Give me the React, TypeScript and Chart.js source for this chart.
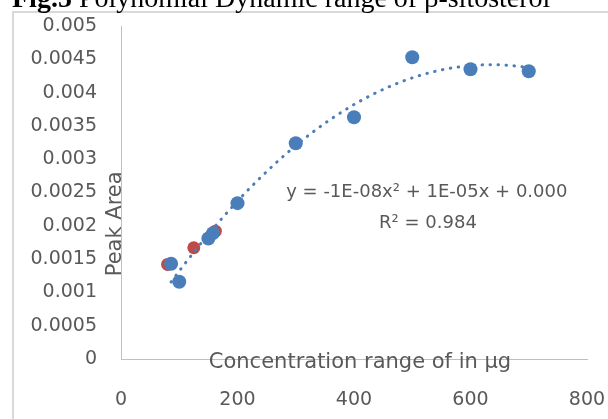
import React, { useEffect, useRef } from 'react';
import { Chart, registerables } from 'chart.js';

Chart.register(...registerables);

const TITLE_BOLD = 'Fig.5';
const TITLE_REST = ' Polynomial Dynamic range of β-sitosterol';
const X_TITLE = 'Concentration range of in µg';
const Y_TITLE = 'Peak Area';
const EQUATION = 'y = -1E-08x² + 1E-05x + 0.000';
const R2_LABEL = 'R² = 0.984';

// Main (blue) series – concentration (µg) vs peak area
const BLUE_X = [86, 100, 150, 158, 200, 300, 400, 500, 600, 700];
const BLUE_Y = [0.00143, 0.00116, 0.00181, 0.00189, 0.00234, 0.00324, 0.00363, 0.00453, 0.00435, 0.00432];

// Secondary (red) series
const RED_X = [80, 125, 162];
const RED_Y = [0.00142, 0.00167, 0.00192];

const X_TICKS = [0, 200, 400, 600, 800];
const Y_TICKS = [0, 0.0005, 0.001, 0.0015, 0.002, 0.0025, 0.003, 0.0035, 0.004, 0.0045, 0.005];

const BLUE = '#4A7EBB';
const RED = '#BE4B48';
const GRAY_TEXT = '#595959';
const AXIS_LINE = '#BFBFBF';
const FONT = '"DejaVu Sans", sans-serif';

// least-squares quadratic fit (Excel polynomial trendline, order 2)
function quadFit(xs: number[], ys: number[]) {
  let s0 = 0, s1 = 0, s2 = 0, s3 = 0, s4 = 0, t0 = 0, t1 = 0, t2 = 0;
  for (let i = 0; i < xs.length; i++) {
    const x = xs[i], y = ys[i];
    s0 += 1; s1 += x; s2 += x * x; s3 += x * x * x; s4 += x * x * x * x;
    t0 += y; t1 += x * y; t2 += x * x * y;
  }
  const m = [
    [s4, s3, s2, t2],
    [s3, s2, s1, t1],
    [s2, s1, s0, t0],
  ];
  for (let c = 0; c < 3; c++) {
    for (let r = c + 1; r < 3; r++) {
      const f = m[r][c] / m[c][c];
      for (let k = c; k < 4; k++) m[r][k] -= f * m[c][k];
    }
  }
  const sol = [0, 0, 0];
  for (let r = 2; r >= 0; r--) {
    let v = m[r][3];
    for (let k = r + 1; k < 3; k++) v -= m[r][k] * sol[k];
    sol[r] = v / m[r][r];
  }
  return sol; // a, b, c
}

const decorPlugin = {
  id: 'decor',
  beforeDraw(chart: any) {
    const ctx = chart.ctx;
    ctx.save();
    ctx.fillStyle = '#ffffff';
    ctx.fillRect(0, 0, chart.width, chart.height);
    ctx.strokeStyle = '#D9D9D9';
    ctx.lineWidth = 2;
    ctx.strokeRect(13, 12, 900, 700);
    ctx.fillStyle = '#000000';
    ctx.textBaseline = 'alphabetic';
    ctx.textAlign = 'left';
    ctx.font = 'bold 28px "Liberation Serif", serif';
    ctx.fillText(TITLE_BOLD, 12, 7);
    const w = ctx.measureText(TITLE_BOLD).width;
    ctx.font = '28px "Liberation Serif", serif';
    ctx.fillText(TITLE_REST, 12 + w, 7);
    ctx.restore();
  },
  afterDraw(chart: any) {
    const ctx = chart.ctx;
    const xs = chart.scales.x;
    const ys = chart.scales.y;
    const area = chart.chartArea;
    ctx.save();
    ctx.fillStyle = GRAY_TEXT;
    // x title, straddling the axis line
    ctx.font = `21px ${FONT}`;
    ctx.textAlign = 'center';
    ctx.textBaseline = 'alphabetic';
    ctx.fillText(X_TITLE, (area.left + area.right) / 2 + 6, area.bottom + 9);
    // y title, baseline on the axis line
    ctx.save();
    ctx.translate(area.left, ys.getPixelForValue(0.00203));
    ctx.rotate(-Math.PI / 2);
    ctx.fillText(Y_TITLE, 0, 0);
    ctx.restore();
    // equation and R²
    ctx.font = `18px ${FONT}`;
    ctx.textBaseline = 'middle';
    ctx.fillText(EQUATION, xs.getPixelForValue(525), ys.getPixelForValue(0.0025));
    ctx.fillText(R2_LABEL, xs.getPixelForValue(527), ys.getPixelForValue(0.00204));
    ctx.restore();
  },
};

export default function App() {
  const ref = useRef<HTMLCanvasElement | null>(null);

  useEffect(() => {
    if (!ref.current) return;
    const [a, b, c] = quadFit(BLUE_X, BLUE_Y);
    const xMin = Math.min(...BLUE_X);
    const xMax = Math.max(...BLUE_X);
    const trend: { x: number; y: number }[] = [];
    const n = 120;
    for (let i = 0; i <= n; i++) {
      const x = xMin + ((xMax - xMin) * i) / n;
      trend.push({ x, y: a * x * x + b * x + c });
    }

    const chart = new Chart(ref.current, {
      type: 'scatter',
      data: {
        datasets: [
          {
            label: 'Series2',
            data: RED_X.map((x, i) => ({ x, y: RED_Y[i] })),
            backgroundColor: RED,
            borderWidth: 0,
            pointRadius: 6.5,
            order: 3,
          },
          {
            label: 'Trend',
            type: 'line',
            data: trend,
            borderColor: BLUE,
            borderWidth: 3,
            borderDash: [0.5, 7.5],
            borderCapStyle: 'round',
            pointRadius: 0,
            fill: false,
            tension: 0,
            order: 2,
          } as any,
          {
            label: 'Series1',
            data: BLUE_X.map((x, i) => ({ x, y: BLUE_Y[i] })),
            backgroundColor: BLUE,
            borderWidth: 0,
            pointRadius: 7,
            order: 1,
          },
        ],
      },
      options: {
        responsive: false,
        animation: false,
        events: [],
        layout: { padding: { left: 0, top: 26, right: 21, bottom: 0 } },
        plugins: {
          legend: { display: false },
          tooltip: { enabled: false },
        },
        scales: {
          x: {
            type: 'linear',
            min: 0,
            max: 800,
            afterBuildTicks: (s: any) => { s.ticks = X_TICKS.map((v) => ({ value: v })); },
            afterFit: (s: any) => {
              s.height = 60;
              s.paddingLeft = 0;
              s.paddingRight = 0;
            },
            grid: { display: false, drawTicks: false },
            border: { display: true, color: AXIS_LINE, width: 1 },
            ticks: {
              color: GRAY_TEXT,
              font: { family: 'DejaVu Sans', size: 19 },
              padding: 30,
              maxRotation: 0,
              callback: (v: any) => String(v),
            },
          },
          y: {
            type: 'linear',
            min: 0,
            max: 0.005,
            afterBuildTicks: (s: any) => { s.ticks = Y_TICKS.map((v) => ({ value: v })); },
            afterFit: (s: any) => {
              s.width = 121;
              s.paddingTop = 0;
              s.paddingBottom = 0;
            },
            grid: { display: false, drawTicks: false },
            border: { display: true, color: AXIS_LINE, width: 1 },
            ticks: {
              color: GRAY_TEXT,
              font: { family: 'DejaVu Sans', size: 19 },
              padding: 24,
              callback: (v: any) => String(v),
            },
          },
        },
      } as any,
      plugins: [decorPlugin],
    });
    return () => chart.destroy();
  }, []);

  return (
    <div style={{ position: 'absolute', left: 0, top: 0, width: 608, height: 419, background: '#fff' }}>
      <canvas ref={ref} width={608} height={419} style={{ display: 'block' }} />
    </div>
  );
}
